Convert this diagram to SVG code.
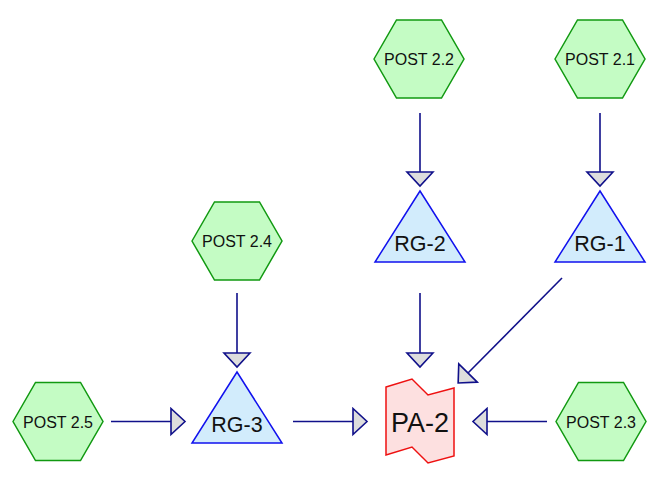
<svg xmlns="http://www.w3.org/2000/svg" width="653" height="477" viewBox="0 0 653 477">
<defs>
<style>
.hex{fill:#c4fcc4;stroke:#119911;stroke-width:1.5}
.tri{fill:#d2ecfc;stroke:#1111ee;stroke-width:1.5}
.pa{fill:#fde0e0;stroke:#ee1111;stroke-width:1.5}
.t{font-family:"Liberation Sans",Arial,sans-serif;fill:#111;text-anchor:middle}
.hs{font-size:16px}
.ts{font-size:21.5px}
.ps{font-size:27px}
.c{fill:none;stroke:#10108a;stroke-width:1.6;marker-end:url(#ah)}
</style>
<marker id="ah" markerUnits="userSpaceOnUse" markerWidth="18" markerHeight="30" viewBox="-2 -2 18 30" refX="0" refY="13" orient="auto">
<path d="M0,0 L14,13 L0,26 Z" fill="#dddddd" stroke="#10108a" stroke-width="1.6" stroke-linejoin="miter"/>
</marker>
</defs>
<g id="connectors">
<line class="c" x1="420" y1="113" x2="420" y2="172"/>
<line class="c" x1="600" y1="113" x2="600" y2="172"/>
<line class="c" x1="237" y1="293" x2="237" y2="353"/>
<line class="c" x1="420" y1="293" x2="420" y2="353"/>
<line class="c" x1="562" y1="278" x2="468" y2="373"/>
<line class="c" x1="111" y1="421.5" x2="171" y2="421.5"/>
<line class="c" x1="293" y1="421.5" x2="353" y2="421.5"/>
<line class="c" x1="547" y1="421.5" x2="487" y2="421.5"/>
</g>
<g id="post22">
<polygon class="hex" points="374,59 396.5,20 441.5,20 464,59 441.5,98 396.5,98"/>
<text class="t hs" x="419" y="65">POST 2.2</text>
</g>
<g id="post21">
<polygon class="hex" points="555,59 577.5,20 622.5,20 645,59 622.5,98 577.5,98"/>
<text class="t hs" x="600" y="65">POST 2.1</text>
</g>
<g id="post24">
<polygon class="hex" points="192,241 214.5,202 259.5,202 282,241 259.5,280 214.5,280"/>
<text class="t hs" x="237" y="247">POST 2.4</text>
</g>
<g id="post25">
<polygon class="hex" points="13,421.5 35.5,382.5 80.5,382.5 103,421.5 80.5,460.5 35.5,460.5"/>
<text class="t hs" x="58" y="427.5">POST 2.5</text>
</g>
<g id="post23">
<polygon class="hex" points="556,421.5 578.5,382.5 623.5,382.5 646,421.5 623.5,460.5 578.5,460.5"/>
<text class="t hs" x="601" y="427.5">POST 2.3</text>
</g>
<g id="rg2">
<polygon class="tri" points="420,191 375,262 465,262"/>
<text class="t ts" x="420" y="251">RG-2</text>
</g>
<g id="rg1">
<polygon class="tri" points="600,191 555,262 645,262"/>
<text class="t ts" x="600" y="251">RG-1</text>
</g>
<g id="rg3">
<polygon class="tri" points="237,372 192,443 282,443"/>
<text class="t ts" x="237" y="432">RG-3</text>
</g>
<g id="pa2">
<path class="pa" d="M386,387 L412,379 L428,395 L454,388 L454,456 L428,463 L412,447 L386,455 Z"/>
<text class="t ps" x="420" y="432">PA-2</text>
</g>
</svg>
